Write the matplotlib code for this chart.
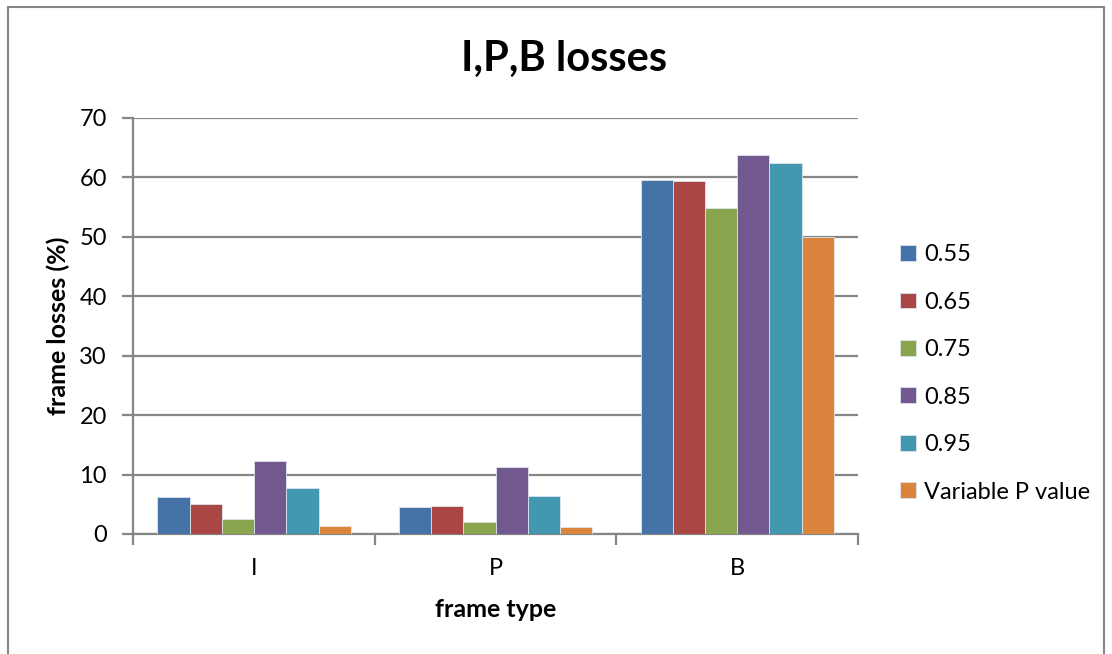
import matplotlib.pyplot as plt
import numpy as np
from matplotlib.patches import Rectangle

plt.rcParams['font.family'] = ['Lato', 'DejaVu Sans']

# frame types and loss values (%) per P value
frame_types = ['I', 'P', 'B']
series_names = ['0.55', '0.65', '0.75', '0.85', '0.95', 'Variable P value']
loss_055 = [6.3, 4.6, 59.6]
loss_065 = [5.0, 4.7, 59.4]
loss_075 = [2.5, 2.1, 54.8]
loss_085 = [12.3, 11.2, 63.8]
loss_095 = [7.7, 6.4, 62.5]
loss_var = [1.4, 1.1, 50.0]
all_losses = [loss_055, loss_065, loss_075, loss_085, loss_095, loss_var]

colors = ['#4572A7', '#AA4643', '#89A54E', '#71588F', '#4198AF', '#DB843D']

fig = plt.figure(figsize=(11.12, 6.54), dpi=100)
ax = fig.add_axes([0.1199, 0.1835, 0.6517, 0.6361])

# outer chart border
fig.patches.append(Rectangle((8 / 1112, -0.05), 1096 / 1112, 1 - 7 / 654 + 0.05,
                             transform=fig.transFigure, fill=False,
                             edgecolor='#868686', linewidth=1.5))

x = np.arange(len(frame_types))
width = 0.8 / len(series_names)
for i in range(len(series_names)):
    offs = (i - (len(series_names) - 1) / 2) * width
    ax.bar(x + offs, all_losses[i], width, color=colors[i], label=series_names[i],
           edgecolor='#dde4ee', linewidth=0.6, zorder=3)

ax.set_xlim(-0.5, 2.5)
ax.set_ylim(0, 70)
ax.set_yticks(range(0, 71, 10))
ax.yaxis.grid(True, color='#868686', linewidth=1.6, zorder=0)

# category labels centred, ticks at boundaries
ax.set_xticks(x)
ax.set_xticklabels(frame_types)
ax.tick_params(axis='x', length=0, labelsize=17, pad=17)
ax.set_xticks([-0.5, 0.5, 1.5, 2.5], minor=True)
ax.tick_params(axis='x', which='minor', length=8, width=1.6, color='#868686')
ax.tick_params(axis='y', length=8, width=1.6, color='#868686', labelsize=17, pad=11)

for s in ['top', 'right']:
    ax.spines[s].set_visible(False)
for s in ['left', 'bottom']:
    ax.spines[s].set_color('#868686')
    ax.spines[s].set_linewidth(1.6)

ax.set_ylabel('frame losses (%)', fontsize=18, fontweight='bold', labelpad=7)
ax.set_xlabel('frame type', fontsize=18, fontweight='bold', labelpad=14)
fig.text(564 / 1112, 1 - 59 / 654, 'I,P,B losses', fontsize=30, fontweight='bold',
         ha='center', va='center')

ax.legend(loc='center left', bbox_to_anchor=(1.045, 0.386), frameon=False,
          fontsize=17, handlelength=0.66, handleheight=0.66, handletextpad=0.35,
          labelspacing=1.12, borderaxespad=0)

fig.savefig('out.png', dpi=100)
